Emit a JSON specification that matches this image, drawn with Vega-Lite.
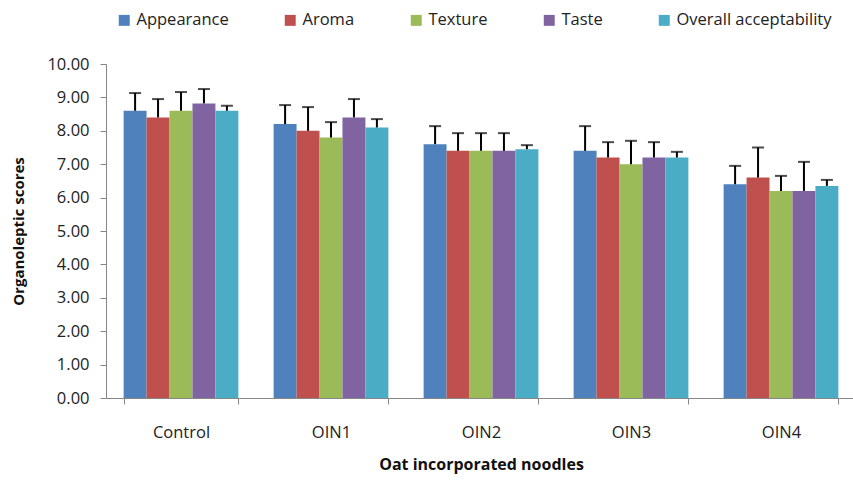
{
  "$schema": "https://vega.github.io/schema/vega-lite/v6.json",
  "width": 750,
  "height": 334,
  "autosize": "none",
  "padding": {"left": 106, "top": 64, "right": 0, "bottom": 86},
  "background": "white",
  "config": {
    "view": {"stroke": null},
    "font": "Open Sans",
    "axis": {"labelFont": "Open Sans", "titleFont": "Open Sans", "labelColor": "#222", "titleColor": "#111", "domainColor": "#868686", "tickColor": "#868686", "grid": false},
    "axisY": {"labelOverlap": false, "values": [0,1,2,3,4,5,6,7,8,9,10], "format": ".2f"}
  },
  "data": {
    "values": [
      {"sample": "Control", "attribute": "Appearance", "value": 8.6, "upper": 9.13},
      {"sample": "Control", "attribute": "Aroma", "value": 8.4, "upper": 8.95},
      {"sample": "Control", "attribute": "Texture", "value": 8.6, "upper": 9.16},
      {"sample": "Control", "attribute": "Taste", "value": 8.82, "upper": 9.25},
      {"sample": "Control", "attribute": "Overall acceptability", "value": 8.6, "upper": 8.75},
      {"sample": "OIN1", "attribute": "Appearance", "value": 8.2, "upper": 8.77},
      {"sample": "OIN1", "attribute": "Aroma", "value": 8.0, "upper": 8.71},
      {"sample": "OIN1", "attribute": "Texture", "value": 7.8, "upper": 8.26},
      {"sample": "OIN1", "attribute": "Taste", "value": 8.4, "upper": 8.95},
      {"sample": "OIN1", "attribute": "Overall acceptability", "value": 8.1, "upper": 8.35},
      {"sample": "OIN2", "attribute": "Appearance", "value": 7.6, "upper": 8.14},
      {"sample": "OIN2", "attribute": "Aroma", "value": 7.4, "upper": 7.93},
      {"sample": "OIN2", "attribute": "Texture", "value": 7.4, "upper": 7.93},
      {"sample": "OIN2", "attribute": "Taste", "value": 7.4, "upper": 7.93},
      {"sample": "OIN2", "attribute": "Overall acceptability", "value": 7.45, "upper": 7.57},
      {"sample": "OIN3", "attribute": "Appearance", "value": 7.4, "upper": 8.14},
      {"sample": "OIN3", "attribute": "Aroma", "value": 7.2, "upper": 7.66},
      {"sample": "OIN3", "attribute": "Texture", "value": 7.0, "upper": 7.7},
      {"sample": "OIN3", "attribute": "Taste", "value": 7.2, "upper": 7.66},
      {"sample": "OIN3", "attribute": "Overall acceptability", "value": 7.2, "upper": 7.37},
      {"sample": "OIN4", "attribute": "Appearance", "value": 6.4, "upper": 6.95},
      {"sample": "OIN4", "attribute": "Aroma", "value": 6.6, "upper": 7.5},
      {"sample": "OIN4", "attribute": "Texture", "value": 6.2, "upper": 6.65},
      {"sample": "OIN4", "attribute": "Taste", "value": 6.2, "upper": 7.07},
      {"sample": "OIN4", "attribute": "Overall acceptability", "value": 6.35, "upper": 6.53}
    ]
  },
  "encoding": {
    "x": {
      "field": "sample", "type": "nominal", "sort": null,
      "scale": {"paddingInner": 0.235, "paddingOuter": 0.1175},
      "axis": {"title": "Oat incorporated noodles", "labelAngle": 0, "labelFontSize": 16.5, "labelPadding": 20, "tickBand": "extent", "tickSize": 6, "titleFontSize": 16, "titleFontWeight": "bold", "titlePadding": 16}
    },
    "xOffset": {"field": "attribute", "type": "nominal", "sort": ["Appearance", "Aroma", "Texture", "Taste", "Overall acceptability"], "scale": {"paddingInner": 0, "paddingOuter": 0}}
  },
  "layer": [
    {
      "mark": {"type": "bar"},
      "encoding": {
        "y": {"field": "value", "type": "quantitative", "scale": {"domain": [0, 10]},
          "axis": {"title": "Organoleptic scores", "format": ".2f", "values": [0,1,2,3,4,5,6,7,8,9,10], "labelOverlap": false, "labelFontSize": 16.5, "labelPadding": 11, "tickSize": 6, "titleFontSize": 15, "titleFontWeight": "bold", "titlePadding": 20}},
        "color": {"field": "attribute", "type": "nominal",
          "sort": ["Appearance", "Aroma", "Texture", "Taste", "Overall acceptability"],
          "scale": {"domain": ["Appearance", "Aroma", "Texture", "Taste", "Overall acceptability"], "range": ["#4F81BD", "#C0504D", "#9BBB59", "#8064A2", "#4BACC6"]},
          "legend": {"title": null, "orient": "none", "legendX": 10, "legendY": -52, "direction": "horizontal", "columns": 5, "symbolType": "square", "symbolSize": 120, "symbolStrokeWidth": 0, "labelFontSize": 16.5, "labelColor": "#222", "columnPadding": 53, "labelOffset": 4}}
      }
    },
    {
      "mark": {"type": "rule", "color": "black", "strokeWidth": 2},
      "encoding": {
        "y": {"field": "value", "type": "quantitative", "axis": {"title": "Organoleptic scores", "format": ".2f", "values": [0,1,2,3,4,5,6,7,8,9,10], "labelOverlap": false}},
        "y2": {"field": "upper"}
      }
    },
    {
      "mark": {"type": "tick", "color": "black", "thickness": 2, "size": 12},
      "encoding": {
        "y": {"field": "upper", "type": "quantitative", "axis": {"title": "Organoleptic scores", "format": ".2f", "values": [0,1,2,3,4,5,6,7,8,9,10], "labelOverlap": false}}
      }
    }
  ]
}
